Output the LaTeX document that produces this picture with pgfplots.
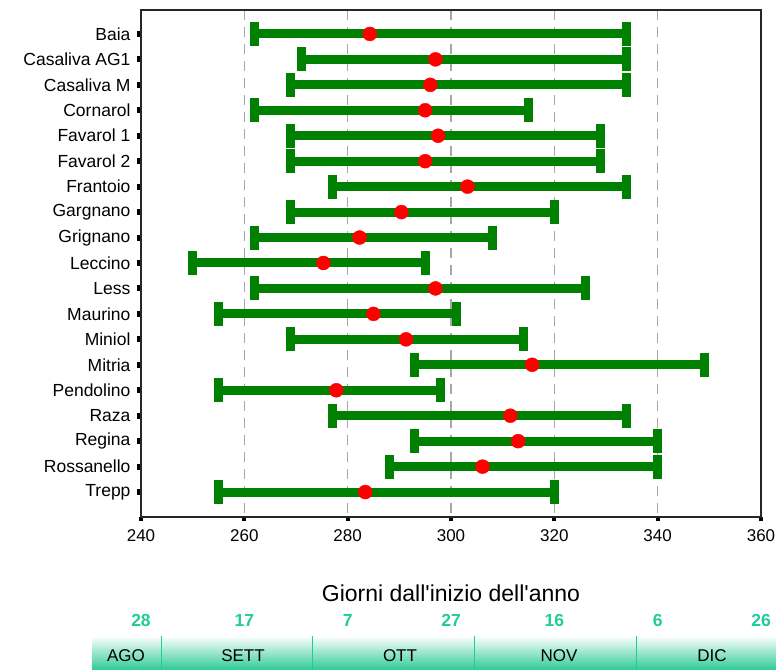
\documentclass[border=0pt]{standalone}
\usepackage{fontspec}
\setmainfont{Liberation Sans}[Ligatures=TeXOff]
\usepackage{pgfplots}
\usepackage{pgfplotstable}
\pgfplotsset{compat=1.18}
\definecolor{ggreen}{HTML}{008000}
\definecolor{rred}{HTML}{FF0000}
\definecolor{teal2}{HTML}{22CC99}
\definecolor{tealband}{HTML}{33CC99}
\pgfplotstableread{
idx lo hi mid
0 262 334 284.3
1 271 334 297.0
2 269 334 296.0
3 262 315 295.0
4 269 329 297.5
5 269 329 295.0
6 277 334 303.2
7 269 320 290.4
8 262 308 282.3
9 250 295 275.3
10 262 326 297.0
11 255 301 285.0
12 269 314 291.3
13 293 349 315.7
14 255 298 277.8
15 277 334 311.5
16 293 340 313.0
17 288 340 306.1
18 255 320 283.4
}\ranges
\begin{document}
\begin{tikzpicture}
\useasboundingbox (-141pt,-152pt) rectangle (635pt,517pt);
\begin{axis}[
  scale only axis,
  width=620pt, height=507pt,
  xmin=240, xmax=360,
  ymin=-0.94, ymax=18.98,
  y dir=reverse,
  xtick={240,260,...,360},
  ytick={0,...,18},
  yticklabels={Baia,Casaliva AG1,Casaliva M,Cornarol,Favarol 1,Favarol 2,Frantoio,Gargnano,Grignano,Leccino,Less,Maurino,Miniol,Mitria,Pendolino,Raza,Regina,Rossanello,Trepp},
  xtick pos=bottom, ytick pos=left,
  /pgf/number format/assume math mode=true,
  /pgf/number format/1000 sep={},
  xticklabel style={font=\fontsize{17}{19}\selectfont, yshift=-5pt},
  yticklabel style={font=\fontsize{17.5}{19}\selectfont, xshift=-3pt},
  axis line style={black!85, line width=1.2pt},
  ytick style={black, line width=6pt},
  xtick style={black, line width=4pt},
  tick align=outside,
  major tick length=4pt,
  xmajorgrids=true,
  ymajorgrids=false,
  major grid style={gray!70, line width=1.1pt, dash pattern=on 10pt off 7pt},
  clip=false,
]
\addplot[draw=none, mark=none, forget plot,
  error bars/.cd, x dir=both, x explicit,
  error mark=|,
  error bar style={line width=9pt, color=ggreen},
  error mark options={line width=9pt, mark size=12pt, color=ggreen}]
  table[x expr={(\thisrow{lo}+\thisrow{hi})/2}, y=idx, x error expr={(\thisrow{hi}-\thisrow{lo})/2}] {\ranges};
\addplot[only marks, mark=*, mark size=7pt, color=rred, mark options={draw=none, fill=rred}]
  table[x=mid, y=idx] {\ranges};
\end{axis}
\node[font=\fontsize{23}{26}\selectfont] at (310pt,-76pt) {Giorni dall'inizio dell'anno};
\foreach \d/\t in {0/28,20/17,40/7,60/27,80/16,100/6,120/26}
  \node[font=\fontsize{17.5}{20}\selectfont\bfseries, text=teal2, anchor=base] at ({\d*5.16667pt},-109pt) {\t};
\shade[top color=white, bottom color=tealband] (-49pt,-119pt) rectangle (635pt,-152pt);
\foreach \x in {20.7,171.5,333.8,495.5}
  \draw[teal2, line width=1pt] (\x pt,-119pt) -- (\x pt,-152pt);
\foreach \x/\m in {-15/AGO,102/SETT,259/OTT,418/NOV,571/DIC}
  \node[font=\fontsize{17}{19}\selectfont, anchor=base] at (\x pt,-144pt) {\m};
\end{tikzpicture}
\end{document}
